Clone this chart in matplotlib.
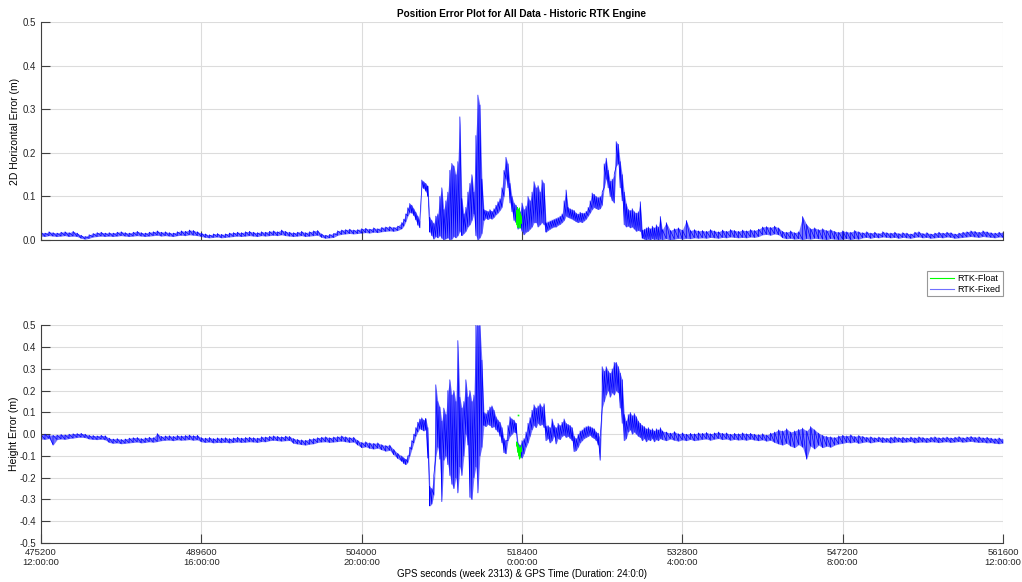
import numpy as np
import matplotlib
matplotlib.use("Agg")
import matplotlib.pyplot as plt
from matplotlib.lines import Line2D

plt.rcParams["font.family"] = ["Liberation Sans", "DejaVu Sans"]
plt.rcParams["axes.unicode_minus"] = False

# ---- time axis (GPS seconds of week 2313) ----
T_START, T_END = 475200, 561600
tick_secs = [475200, 489600, 504000, 518400, 532800, 547200, 561600]
tick_clock = ["12:00:00", "16:00:00", "20:00:00", "0:00:00", "4:00:00", "8:00:00", "12:00:00"]
hz_ticks = [0.0, 0.1, 0.2, 0.3, 0.4, 0.5]
ht_ticks = [-0.5, -0.4, -0.3, -0.2, -0.1, 0.0, 0.1, 0.2, 0.3, 0.4, 0.5]

# sampling grid: quiet part, busy part, quiet part
t_a = np.arange(475200, 507600, 360)
t_b = np.arange(507600, 531000, 180)
t_c = np.arange(531000, 561601, 360)

# ---- 2D horizontal error envelope (mm), RTK-Fixed ----
hz_lo_a = [9, 8, 10, 9, 8, 9, 10, 8, 9, 8,
           4, 2, 4,
           7, 8, 9, 8, 9, 8, 9,
           10, 9, 8, 9, 10, 9, 8, 9, 10, 11,
           9, 10, 9, 8, 10, 11, 10, 12, 11, 10,
           8, 6, 5, 6, 7, 5, 6, 7, 8,
           9, 8, 9, 10, 9, 8, 10, 9, 10, 11, 10,
           12, 10, 9, 8, 9, 10, 8, 9, 10, 11,
           6, 4, 5, 6,
           11, 13, 14, 15, 14, 15, 16,
           17, 16, 18, 17,
           19, 20, 21, 20, 22]
hz_hi_a = [18, 16, 19, 17, 16, 18, 19, 17, 20, 16,
           11, 8, 12,
           15, 17, 18, 16, 17, 16, 18,
           19, 17, 16, 18, 20, 17, 16, 18, 19, 21,
           18, 19, 17, 16, 19, 21, 20, 23, 22, 19,
           16, 14, 12, 14, 15, 13, 14, 16, 17,
           18, 17, 19, 20, 18, 17, 19, 18, 20, 21, 19,
           23, 20, 18, 17, 18, 20, 17, 19, 21, 22,
           14, 11, 13, 15,
           21, 23, 24, 25, 23, 24, 26,
           27, 25, 28, 26,
           29, 30, 31, 29, 32]
hz_lo_b = [26, 32, 42, 55, 63, 62, 56, 46, 34, 28,
           122, 118, 112, 100, 18, 10, 2, 8, 5, 10,
           4, 0, 3, 5, 0, 2, 8, 5, 10, 20,
           10, 15, 20, 30, 35, 45, 60, 10, 0, 5,
           15, 45, 50, 47, 50, 48, 52, 58, 62, 68,
           75, 100, 140, 120, 85, 65, 45, 40, 25, 30,
           20, 12, 18, 20, 25, 30, 40, 40, 30, 35,
           40, 35, 18, 22, 25, 28, 30, 30, 34, 36,
           40, 45, 55, 52, 50, 48, 45, 42, 40, 42,
           40, 44, 48, 55, 62, 70, 75, 72, 70, 72,
           80, 120, 140, 120, 100, 90, 85, 170, 175, 120,
           90, 35, 30, 32, 28, 30, 25, 20, 22, 20,
           4, 2, 0, 2, 0, 3, 1, 2, 0, 2]
hz_hi_b = [40, 48, 60, 74, 84, 80, 72, 64, 55, 44,
           138, 134, 130, 124, 52, 45, 38, 55, 60, 100,
           120, 70, 90, 110, 160, 176, 170, 150, 180, 283,
           95, 60, 75, 110, 130, 150, 110, 240, 333, 310,
           140, 70, 68, 66, 70, 66, 72, 80, 88, 95,
           120, 160, 190, 175, 130, 100, 85, 80, 70, 65,
           85, 70, 78, 100, 90, 110, 134, 120, 125, 110,
           138, 130, 40, 42, 44, 46, 48, 50, 52, 55,
           60, 90, 115, 75, 72, 70, 68, 62, 60, 64,
           62, 62, 66, 75, 90, 108, 105, 100, 98, 100,
           110, 175, 188, 160, 135, 140, 150, 226, 220, 180,
           150, 110, 83, 70, 68, 72, 65, 62, 65, 88,
           23, 25, 28, 30, 26, 32, 28, 35, 30, 54]
hz_lo_c = [1, 3, 0, 2, 4, 2, 4, 3, 5, 4,
           5, 4, 6, 5, 4, 6, 5, 7, 6, 5,
           6, 5, 7, 6, 8,
           12, 13, 11, 14, 12,
           5, 3, 4, 2, 3,
           1, 3, 2, 4, 3,
           2, 1, 3, 2, 1,
           2, 3, 1, 3, 2,
           5, 6, 4, 6, 5, 7, 6, 5, 6, 4,
           6, 5, 4, 6, 7, 5, 6, 4, 5, 6,
           5, 7, 6, 4, 5, 6, 7, 8, 7, 6,
           8, 7, 6, 5, 7, 6]
hz_hi_c = [24, 40, 22, 26, 28, 23, 45, 22, 24, 21,
           22, 20, 24, 21, 19, 23, 20, 24, 22, 20,
           23, 21, 24, 22, 25,
           30, 31, 29, 32, 28,
           20, 18, 21, 17, 19,
           54, 36, 26, 28, 24,
           26, 22, 24, 20, 18,
           21, 19, 18, 22, 19,
           17, 19, 16, 18, 15, 19, 17, 16, 18, 15,
           17, 16, 14, 18, 19, 15, 17, 14, 16, 18,
           16, 18, 17, 14, 16, 18, 19, 21, 20, 18,
           21, 19, 17, 16, 18, 17]

# ---- height error envelope (mm), RTK-Fixed ----
ht_lo_a = [-22, -24, -20, -50, -25, -22, -24, -20, -18, -15,
           -14, -16, -22, -24, -25, -23, -26, -38, -42, -40,
           -44, -42, -40, -38, -36, -40, -38, -35, -37, -34,
           -30, -28, -27, -30, -26, -28, -27, -25, -28, -26,
           -35, -38, -36, -40, -38, -39, -37, -40, -38, -36,
           -38, -37, -35, -36, -38, -34, -35, -30, -28, -30,
           -32, -30, -29, -42, -45, -48, -50, -46, -44, -38,
           -36, -35, -38, -36, -34, -32, -35, -38, -36, -50,
           -62, -58, -65, -68, -64, -72, -78, -74, -95, -112]
ht_hi_a = [-2, 0, -3, -5, -4, -1, -3, 0, 2, 3,
           4, 0, -5, -6, -8, -5, -7, -18, -22, -20,
           -24, -22, -18, -16, -15, -20, -17, -14, -16, 3,
           -10, -8, -7, -10, -6, -8, -6, -4, -7, -5,
           -16, -18, -15, -20, -17, -18, -16, -20, -17, -14,
           -18, -15, -14, -16, -18, -12, -13, -10, -8, -10,
           -12, -9, -10, -20, -24, -26, -28, -22, -20, -16,
           -14, -12, -16, -13, -11, -8, -12, -15, -14, -28,
           -38, -35, -40, -42, -40, -48, -52, -50, -70, -88]
ht_lo_b = [-125, -135, -140, -130, -100, -70, -40, -10, 10, 25,
           20, 15, 20, -110, -330, -320, -280, -100, -60, -115,
           -310, -120, -100, -140, -190, -230, -250, -200, -270, -150,
           -190, -100, 0, -50, -290, -300, -200, -150, -270, -100,
           -60, 40, 35, 45, 40, 30, 35, 20, 10, -10,
           -40, -85, -90, -30, -10, 0, 10, 5, -80, -100,
           -110, -90, -60, -40, -10, 20, 40, 30, 50, 40,
           45, 30, -30, -20, -40, -30, -10, -45, -20, -25,
           -10, -5, -15, -10, -20, -30, -80, -75, -60, -40,
           -30, -20, -15, -10, -5, -15, -20, -30, -50, -120,
           120, 150, 180, 200, 170, 190, 180, 200, 190, 120,
           50, -30, -20, 10, 20, 0, 10, 0, -10, -15,
           -30, -20, -35, -25, -30, -20, -35, -25, -30, -20]
ht_hi_b = [-100, -108, -115, -100, -60, -30, 0, 30, 55, 70,
           75, 65, 72, 30, -240, -250, -190, 227, 150, 125,
           60, 120, 90, 200, 250, 180, 200, 150, 430, 170,
           120, 150, 250, 170, 200, 150, 180, 500, 500, 500,
           340, 100, 95, 110, 125, 130, 110, 80, 65, 55,
           30, -20, -30, 40, 80, 70, 65, 50, -40, -50,
           -30, -20, 10, 50, 76, 110, 135, 120, 130, 140,
           125, 140, 37, 40, 30, 70, 40, 30, 50, 40,
           55, 70, 50, 45, 40, 30, -10, -20, 0, 15,
           20, 30, 35, 38, 35, 30, 25, 10, 5, -20,
           310, 290, 310, 290, 280, 300, 330, 330, 310, 280,
           250, 90, 60, 90, 100, 85, 95, 80, 60, 50,
           40, 35, 25, 30, 20, 25, 15, 25, 20, 30]
ht_lo_c = [-25, -30, -22, -28, -32, -26, -30, -24, -30, -27,
           -24, -22, -28, -23, -20, -25, -22, -28, -24, -27,
           -25, -28, -23, -27, -30,
           -26, -32, -28, -38, -45,
           -50, -42, -55, -62, -48,
           -60, -115, -55, -68, -50,
           -62, -55, -60, -50, -45,
           -42, -38, -40, -36, -42,
           -38, -35, -40, -36, -34, -38, -36, -40, -37, -35,
           -38, -36, -34, -40, -37, -36, -38, -35, -36, -39,
           -36, -35, -38, -36, -34, -37, -35, -33, -36, -38,
           -37, -40, -39, -42, -44, -41]
ht_hi_c = [15, 10, 5, 12, 2, 6, 0, 4, 2, 6,
           4, 8, 2, 6, 10, 4, 6, 0, 4, 2,
           6, 2, 4, 0, -2,
           2, -4, 5, 10, 20,
           15, 25, 10, 15, 22,
           28, 15, 35, 20, 5,
           -5, -10, -12, -15, -8,
           -5, -8, -3, -10, -6,
           -10, -14, -12, -16, -13, -15, -18, -14, -12, -16,
           -14, -17, -13, -16, -12, -15, -18, -14, -12, -16,
           -15, -13, -17, -14, -11, -16, -13, -10, -14, -12,
           -16, -14, -18, -20, -17, -22]

# ---- RTK-Float epochs (mm) ----
float_t = [517920, 517980, 518040, 518100, 518160, 518220, 518280, 518340]
float_hz_lo = [35, 30, 28, 40, 32, 27, 30, 38]
float_hz_hi = [68, 75, 72, 66, 74, 62, 60, 55]
float_ht_lo = [-55, -70, -85, -100, -115, -108, -95, -80]
float_ht_hi = [-35, -40, -48, -55, -62, -70, -60, -50]
float_dot_t = [518010]
float_dot_ht = [87]

FIXED_COLOR = "#0000ff"
FLOAT_COLOR = "#00ff00"
GRID_COLOR = "#dcdcdc"
SPINE_COLOR = "#404040"


def envelope_trace(t, lo, hi):
    """Interleave low/high samples into one jagged trace (metres)."""
    x = np.repeat(np.asarray(t, float), 2)
    y = np.column_stack([np.asarray(lo, float), np.asarray(hi, float)]).ravel() / 1000.0
    return x, y


def draw_envelope(ax, t, lo, hi, color, lw=0.5, fill_alpha=0.55):
    t = np.asarray(t, float)
    ax.fill_between(t, np.asarray(lo, float) / 1000.0, np.asarray(hi, float) / 1000.0,
                    color=color, linewidth=0, alpha=fill_alpha)
    x, y = envelope_trace(t, lo, hi)
    ax.plot(x, y, color=color, linewidth=lw)


t_fix = np.concatenate([t_a, t_b, t_c])
hz_lo = hz_lo_a + hz_lo_b + hz_lo_c
hz_hi = hz_hi_a + hz_hi_b + hz_hi_c
ht_lo = ht_lo_a + ht_lo_b + ht_lo_c
ht_hi = ht_hi_a + ht_hi_b + ht_hi_c

fig = plt.figure(figsize=(10.22, 5.82), dpi=100)
ax1 = fig.add_axes([0.0401, 0.5876, 0.9413, 0.374])
ax2 = fig.add_axes([0.0401, 0.0670, 0.9413, 0.374])


def style_axes(ax, yticks):
    ax.set_xlim(T_START, T_END)
    ax.set_xticks(tick_secs)
    ax.set_yticks(yticks)
    ax.set_yticklabels([f"{v:.1f}" for v in yticks])
    ax.grid(True, color=GRID_COLOR, linewidth=0.8)
    ax.set_axisbelow(True)
    for side in ("top", "right"):
        ax.spines[side].set_visible(False)
    for side in ("left", "bottom"):
        ax.spines[side].set_color(SPINE_COLOR)
        ax.spines[side].set_linewidth(0.8)
    ax.tick_params(direction="in", length=6.5, width=0.8, color=SPINE_COLOR,
                   labelsize=7, labelcolor="#262626")


# top: 2D horizontal error
draw_envelope(ax1, t_fix, hz_lo, hz_hi, FIXED_COLOR)
draw_envelope(ax1, float_t, float_hz_lo, float_hz_hi, FLOAT_COLOR, fill_alpha=1.0)
ax1.set_ylim(0.0, 0.5)
style_axes(ax1, hz_ticks)
ax1.tick_params(labelbottom=False)
ax1.set_ylabel("2D Horizontal Error (m)", fontsize=7.5, labelpad=2)
ax1.set_title("Position Error Plot for All Data - Historic RTK Engine",
              fontsize=7.2, fontweight="bold", pad=4)

# bottom: height error
draw_envelope(ax2, t_fix, ht_lo, ht_hi, FIXED_COLOR)
draw_envelope(ax2, float_t, float_ht_lo, float_ht_hi, FLOAT_COLOR, fill_alpha=1.0)
ax2.plot(float_dot_t, np.array(float_dot_ht) / 1000.0, "s", color=FLOAT_COLOR,
         markersize=1.2, markeredgewidth=0)
ax2.set_ylim(-0.5, 0.5)
style_axes(ax2, ht_ticks)
ax2.set_xticklabels([f"{s}\n{c}" for s, c in zip(tick_secs, tick_clock)],
                    family=["Liberation Sans Narrow", "Liberation Sans"], fontsize=6.8)
ax2.set_ylabel("Height Error (m)", fontsize=7.5, labelpad=0)
ax2.set_xlabel("GPS seconds (week 2313) & GPS Time (Duration: 24:0:0)",
               family=["Liberation Sans Narrow", "Liberation Sans"], fontsize=7, labelpad=1)

handles = [Line2D([], [], color=FLOAT_COLOR, linewidth=0.8),
           Line2D([], [], color="#7070ff", linewidth=0.8)]
leg = fig.legend(handles, ["RTK-Float", "RTK-Fixed"], loc="upper right",
                 bbox_to_anchor=(0.9815, 0.534), fontsize=6.5, frameon=True,
                 fancybox=False, edgecolor="#7f7f7f", handlelength=2.6,
                 handletextpad=0.4, borderpad=0.3, labelspacing=0.2, borderaxespad=0)
leg.get_frame().set_linewidth(0.8)

fig.savefig("out.png", dpi=100)
